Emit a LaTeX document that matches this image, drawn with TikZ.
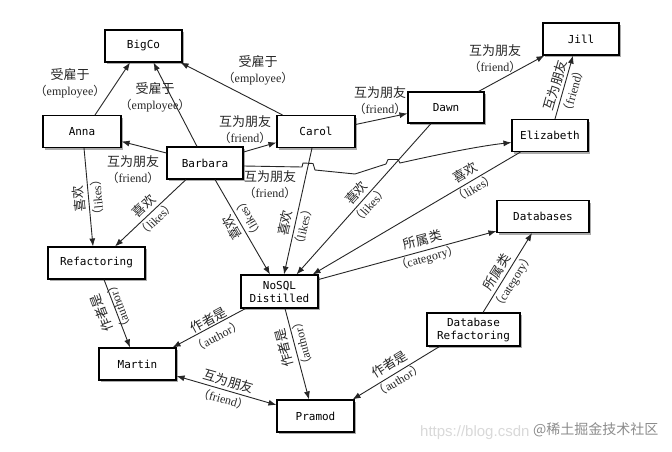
\documentclass[tikz,border=0pt]{standalone}
\usepackage{fontspec}
\setmainfont{Liberation Serif}
\setmonofont{DejaVu Sans Mono}
\newfontfamily\cjk{Noto Sans CJK SC}
\newfontfamily\wmsans{Liberation Sans}
\usetikzlibrary{arrows.meta,shadows}
\newcommand{\lb}[2]{{\cjk\fontsize{13}{16}\selectfont #1}\\{\cjk （}#2{\cjk ）}}
\tikzset{
 box/.style={draw, line width=1.1pt, fill=white, font=\ttfamily\fontsize{11}{13}\selectfont,
   minimum height=32pt, inner sep=2pt, align=center,
   drop shadow={shadow xshift=2pt, shadow yshift=-2pt, fill=black!55, opacity=0.6}},
 edge/.style={line width=0.9pt, draw=black!85, -{Latex[length=8pt,width=6pt]}},
 dedge/.style={line width=0.9pt, draw=black!85, {Latex[length=8pt,width=6pt]}-{Latex[length=8pt,width=6pt]}},
 lab/.style={font=\rmfamily\fontsize{12}{16}\selectfont, align=center, inner sep=0pt, text=black!85},
 rlab/.style={lab, font=\rmfamily\fontsize{12}{18}\selectfont},
 wm/.style={inner sep=0pt, anchor=west},
}
\begin{document}
\begin{tikzpicture}[x=1pt,y=-1pt]
\path[use as bounding box, fill=white] (0,0) rectangle (672,452);

% nodes
\node[box, minimum width=77pt] (bigco) at (143.5,46) {BigCo};
\node[box, minimum width=78pt] (anna) at (82,131.5) {Anna};
\node[box, minimum width=76pt] (barbara) at (205,163) {Barbara};
\node[box, minimum width=78pt] (carol) at (316,131.5) {Carol};
\node[box, minimum width=76pt, minimum height=31pt] (dawn) at (446,107.5) {Dawn};
\node[box, minimum width=76pt] (jill) at (581,39) {Jill};
\node[box, minimum width=76pt] (eliz) at (550,135.5) {Elizabeth};
\node[box, minimum width=92pt] (dbs) at (543,216.5) {Databases};
\node[box, minimum width=97pt] (refac) at (96.5,263) {Refactoring};
\node[box, minimum width=77pt, minimum height=33pt] (nosql) at (279.5,291.5) {NoSQL\\Distilled};
\node[box, minimum width=77pt] (martin) at (137.5,364) {Martin};
\node[box, minimum width=77pt] (pramod) at (315.5,416) {Pramod};
\node[box, minimum width=93pt, minimum height=33pt] (dbref) at (473.5,329.5) {Database\\Refactoring};

% employee edges
\draw[edge] ([xshift=13pt]anna.north) -- ([xshift=-13.5pt]bigco.south);
\draw[edge] ([xshift=-8pt]barbara.north) -- ([xshift=10pt]bigco.south);
\draw[edge] ([xshift=6pt]carol.north west) -- ([xshift=-2pt]bigco.south east);
\node[lab] (l1) at (70,83) {\lb{受雇于}{employee}};
\node[lab] (l2) at (155,97) {\lb{受雇于}{employee}};
\node[lab] (l3) at (258,70) {\lb{受雇于}{employee}};

% friend edges
\draw[edge] ([yshift=10pt]barbara.west) -- ([yshift=-10pt]anna.east);
\node[lab] (l4) at (133,170) {\lb{互为朋友}{friend}};
\draw[edge] ([yshift=11pt]barbara.east) -- ([yshift=-11pt]carol.west);
\node[lab] (l5) at (245,130) {\lb{互为朋友}{friend}};
\draw[edge] ([yshift=-3pt]barbara.east) -- (302,167) -- (303,163) -- (313,163.5) -- (315,170)
   -- (355,174) -- (386,164) -- (388,159.5) -- (398,159.5) -- (400,163)
   .. controls (440,154) and (480,146) .. ([yshift=-7pt]eliz.west);
\node[lab] (l6) at (270,185) {\lb{互为朋友}{friend}};
\draw[edge] ([yshift=7pt]carol.east) -- ([yshift=-6pt]dawn.west);
\node[lab] (l7) at (380,101) {\lb{互为朋友}{friend}};
\draw[edge] ([xshift=-6pt]dawn.north east) -- ([xshift=2pt]jill.south west);
\node[lab] (l8) at (495,59) {\lb{互为朋友}{friend}};
\draw[edge] ([xshift=5pt]eliz.north) -- ([xshift=-8pt]jill.south);
\node[rlab, rotate=74] (l9) at (564,88) {\lb{互为朋友}{friend}};
\draw[dedge] ([yshift=-12pt]martin.east) -- ([yshift=11pt]pramod.west);
\node[rlab, rotate=-16] (l20) at (226,390) {\lb{互为朋友}{friend}};

% likes edges
\draw[edge] ([xshift=2pt]anna.south) -- ([xshift=-3.5pt]refac.north);
\node[rlab, rotate=95] (l10) at (88,198) {\lb{喜欢}{likes}};
\draw[edge] ([xshift=-19pt]barbara.south) -- ([xshift=18.5pt]refac.north);
\node[rlab, rotate=44] (l11) at (150,212) {\lb{喜欢}{likes}};
\draw[edge] ([xshift=10pt]barbara.south) -- ([xshift=-9.5pt]nosql.north);
\node[rlab, rotate=120] (l12) at (240,223) {\lb{喜欢}{likes}};
\draw[edge] ([xshift=-4pt]carol.south) -- ([xshift=4.5pt]nosql.north);
\node[rlab, rotate=77.6] (l13) at (294,225) {\lb{喜欢}{likes}};
\draw[edge] ([xshift=-15pt]dawn.south) -- ([xshift=17pt]nosql.north);
\node[rlab, rotate=48] (l14) at (363,199) {\lb{喜欢}{likes}};
\draw[edge] ([xshift=9pt]eliz.south west) -- ([xshift=-6pt]nosql.north east);
\node[rlab, rotate=30.5] (l15) at (470,180) {\lb{喜欢}{likes}};

% category edges
\draw[edge] ([yshift=12pt]nosql.east) -- ([yshift=2pt]dbs.south west);
\node[rlab, rotate=15] (l16) at (425,249) {\lb{所属类}{category}};
\draw[edge] ([xshift=9.5pt]dbref.north) -- ([xshift=-11pt]dbs.south);
\node[rlab, rotate=58.5] (l21) at (505,277) {\lb{所属类}{category}};

% author edges
\draw[edge] ([xshift=7.5pt]refac.south) -- ([xshift=-7.5pt]martin.north);
\node[rlab, rotate=110.6] (l17) at (110,310) {\lb{作者是}{author}};
\draw[edge] ([xshift=5pt]nosql.south west) -- ([xshift=-4pt]martin.north east);
\node[rlab, rotate=28.4] (l18) at (213,328) {\lb{作者是}{author}};
\draw[edge] ([xshift=5.5pt]nosql.south) -- ([xshift=-6.5pt]pramod.north);
\node[rlab, rotate=104.6] (l19) at (293,346) {\lb{作者是}{author}};
\draw[edge] ([xshift=13pt]dbref.south west) -- ([xshift=-2pt]pramod.north east);
\node[rlab, rotate=31.5] (l22) at (394,372) {\lb{作者是}{author}};

% watermark
\node[wm, font=\wmsans\fontsize{15}{15}\selectfont, text=black!15] (wm1) at (420,433) {https://blog.csdn};
\node[wm, font=\cjk\fontsize{14}{14}\selectfont, text=black!45] (wm2) at (533,430) {@稀土掘金技术社区};
\end{tikzpicture}
\end{document}
